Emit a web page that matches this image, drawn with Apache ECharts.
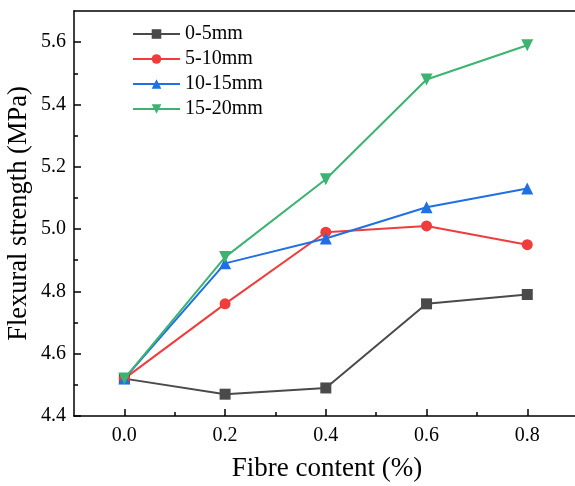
<!DOCTYPE html>
<html>
<head>
<meta charset="utf-8">
<script src="https://cdn.jsdelivr.net/npm/echarts@6/dist/echarts.min.js"></script>
<style>html,body{margin:0;padding:0;background:#fff}#c{width:575px;height:486px}</style>
</head>
<body>
<div id="c"></div>
<script>
const fibreContent = [0.0, 0.2, 0.4, 0.6, 0.8];
const s0_5 = [4.52, 4.47, 4.49, 4.76, 4.79];
const s5_10 = [4.52, 4.76, 4.99, 5.01, 4.95];
const s10_15 = [4.52, 4.89, 4.97, 5.07, 5.13];
const s15_20 = [4.52, 4.91, 5.16, 5.48, 5.59];
const seriesNames = ['0-5mm', '5-10mm', '10-15mm', '15-20mm'];
const xMajorTicks = [0.0, 0.2, 0.4, 0.6, 0.8];
const xMinorTicks = [0.1, 0.3, 0.5, 0.7, 0.9];
const yMajorTicks = [4.4, 4.6, 4.8, 5.0, 5.2, 5.4, 5.6];
const yMinorTicks = [4.5, 4.7, 4.9, 5.1, 5.3, 5.5];

const FONT = '"Liberation Serif", "Times New Roman", serif';
const colors = ['#4a4a4a', '#f03c3c', '#1f6fe5', '#3cb371'];
const symbols = ['rect', 'circle', 'triangle', 'triangle'];
const rotates = [0, 0, 0, 180];
const sizes = [11, 11, 12, 12];
const allData = [s0_5, s5_10, s10_15, s15_20];

const chart = echarts.init(document.getElementById('c'), null, {renderer: 'canvas'});
const axisLine = {show: true, onZero: false, lineStyle: {color: '#000', width: 1.5}};
const xBase = {type: 'value', min: -0.1, max: 1.0, gridIndex: 0, splitLine: {show: false}};
const yBase = {type: 'value', min: 4.4, max: 5.7, gridIndex: 0, splitLine: {show: false}};

chart.setOption({
  animation: false,
  backgroundColor: '#fff',
  grid: {left: 74, top: 11, width: 554, height: 405, show: false,
    containLabel: false, outerBoundsMode: 'none'},
  legend: {
    orient: 'vertical', left: 132, top: 24, padding: 0,
    itemWidth: 47, itemHeight: 12, itemGap: 5,
    textStyle: {fontFamily: FONT, fontSize: 20, color: '#000', lineHeight: 20},
    data: seriesNames
  },
  xAxis: [
    Object.assign({}, xBase, {
      axisLine: axisLine,
      axisTick: {show: true, inside: true, length: 7, lineStyle: {color: '#000', width: 1.5}, customValues: xMajorTicks},
      axisLabel: {show: true, margin: 10, fontFamily: FONT, fontSize: 20, color: '#000',
        customValues: xMajorTicks, formatter: v => v.toFixed(1)}
    }),
    Object.assign({}, xBase, {
      position: 'bottom',
      axisLine: {show: false, onZero: false},
      axisTick: {show: true, inside: true, length: 4, lineStyle: {color: '#000', width: 1.5}, customValues: xMinorTicks},
      axisLabel: {show: false}
    }),
    Object.assign({}, xBase, {
      position: 'top',
      axisLine: axisLine,
      axisTick: {show: false},
      axisLabel: {show: false}
    })
  ],
  yAxis: [
    Object.assign({}, yBase, {
      axisLine: axisLine,
      name: 'Flexural strength (MPa)', nameLocation: 'middle', nameGap: 41, nameMoveOverlap: false,
      nameTextStyle: {fontFamily: FONT, fontSize: 26.5, color: '#000'},
      axisTick: {show: true, inside: true, length: 7, lineStyle: {color: '#000', width: 1.5}, customValues: yMajorTicks},
      axisLabel: {show: true, margin: 8, fontFamily: FONT, fontSize: 20, color: '#000',
        customValues: yMajorTicks, formatter: v => v.toFixed(1)}
    }),
    Object.assign({}, yBase, {
      position: 'left',
      axisLine: {show: false, onZero: false},
      axisTick: {show: true, inside: true, length: 4, lineStyle: {color: '#000', width: 1.5}, customValues: yMinorTicks},
      axisLabel: {show: false}
    })
  ],
  graphic: [{
    type: 'text', x: 327, y: 469,
    style: {text: 'Fibre content (%)', font: '27px ' + FONT, fill: '#000', textAlign: 'center', textVerticalAlign: 'middle'}
  }],
  series: seriesNames.map((name, i) => ({
    name: name, type: 'line', xAxisIndex: 0, yAxisIndex: 0,
    data: fibreContent.map((x, j) => [x, allData[i][j]]),
    symbol: symbols[i], symbolSize: sizes[i], symbolRotate: rotates[i],
    showAllSymbol: true,
    lineStyle: {color: colors[i], width: 2},
    itemStyle: {color: colors[i]}
  }))
});
</script>
</body>
</html>
